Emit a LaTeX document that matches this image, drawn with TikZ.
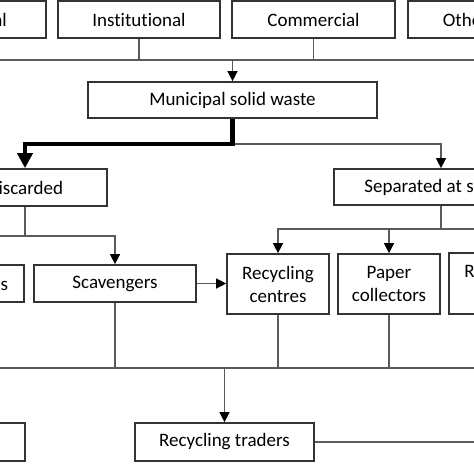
\documentclass[tikz,border=0pt]{standalone}
\usepackage{fontspec}
\setmainfont{Carlito}[Ligatures={NoCommon}]
\usetikzlibrary{arrows.meta}
\definecolor{boxc}{HTML}{333333}
\definecolor{connc}{HTML}{5A5A5A}
\tikzset{
  box/.style={draw=boxc, line width=1.7pt, fill=white, inner sep=0pt, align=center,
    font=\fontsize{19}{23}\selectfont, text=black},
  conn/.style={draw=connc, line width=1.4pt},
  arr/.style={conn, -{Triangle[length=10pt,width=10pt,fill=black,color=black]}},
  heavy/.style={draw=black, line width=4.6pt, -{Triangle[length=15pt,width=15pt]}}
}
\begin{document}
\begin{tikzpicture}[x=1pt,y=-1pt]
\useasboundingbox (0,0) rectangle (474,474);
\clip (0,0) rectangle (474,474);
\fill[white] (0,0) rectangle (474,474);
% top row
\node[box, minimum width=163pt, minimum height=37pt] (res) at (-35.5,19.5) {Residential};
\node[box, minimum width=162pt, minimum height=37pt] (inst) at (139,19.5) {Institutional};
\node[box, minimum width=163pt, minimum height=37pt] (comm) at (313.5,19.5) {Commercial};
\node[box, anchor=west, minimum height=37pt, text width=128pt, align=left, inner xsep=35pt] (oth) at (407,19.5) {Others};
% municipal
\node[box, minimum width=289pt, minimum height=36pt] (muni) at (232.5,100) {Municipal solid waste};
% third row
\node[box, minimum width=164pt, minimum height=37pt] (disc) at (25,187.5) {Discarded};
\node[box, minimum width=214pt, minimum height=36pt] (sep) at (441,187) {Separated at source};
% fourth row
\node[box, anchor=east, minimum height=37pt, text width=130pt, align=right, inner xsep=16pt] (land) at (25,283.5) {Landfills};
\node[box, minimum width=162pt, minimum height=37pt] (scav) at (115,283.5) {Scavengers};
\node[box, minimum width=102pt, minimum height=60pt] (rcen) at (278,284) {Recycling\\centres};
\node[box, minimum width=102pt, minimum height=60pt] (pcol) at (389,284) {Paper\\collectors};
\node[box, minimum width=102pt, minimum height=61pt] (rshop) at (500,283.5) {Recycling\\shops};
% fifth row
\node[box, minimum width=162pt, minimum height=38pt] (lbot) at (-56,442) {};
\node[box, minimum width=179pt, minimum height=38pt] (rtrad) at (224.5,442) {Recycling traders};
% coordinates
\coordinate (b1L) at (-10,60);
\coordinate (b1R) at (484,60);
\coordinate (f1) at (232.5,144);
\coordinate (f2L) at (-10,236);
\coordinate (f3R) at (484,229);
\coordinate (b4L) at (-10,368);
\coordinate (b4R) at (484,368);
\coordinate (tr) at (484,442);
% connectors
\draw[conn] (b1L) -- (b1R);
\draw[conn] (inst.south) -- (inst.south |- b1L);
\draw[conn] (comm.south) -- (comm.south |- b1L);
\draw[arr] (muni.north |- b1L) -- (muni.north);
\draw[conn] (muni.south) -- (f1);
\draw[arr] (f1) -| (sep.north);
\draw[heavy] (muni.south) -- (f1) -| (disc.north);
\draw[conn] (disc.south) -- (disc.south |- f2L);
\draw[arr] (f2L) -| (scav.north);
\draw[arr] (scav.east) -- (scav.east -| rcen.west);
\draw[conn] (sep.south) -- (sep.south |- f3R);
\draw[arr] (f3R) -| (rcen.north);
\draw[arr] (pcol.north |- f3R) -- (pcol.north);
\draw[conn] (b4L) -- (b4R);
\draw[conn] (scav.south) -- (scav.south |- b4L);
\draw[conn] (rcen.south) -- (rcen.south |- b4L);
\draw[conn] (pcol.south) -- (pcol.south |- b4L);
\draw[arr] (rtrad.north |- b4L) -- (rtrad.north);
\draw[conn] (rtrad.east) -- (tr);
\end{tikzpicture}
\end{document}
